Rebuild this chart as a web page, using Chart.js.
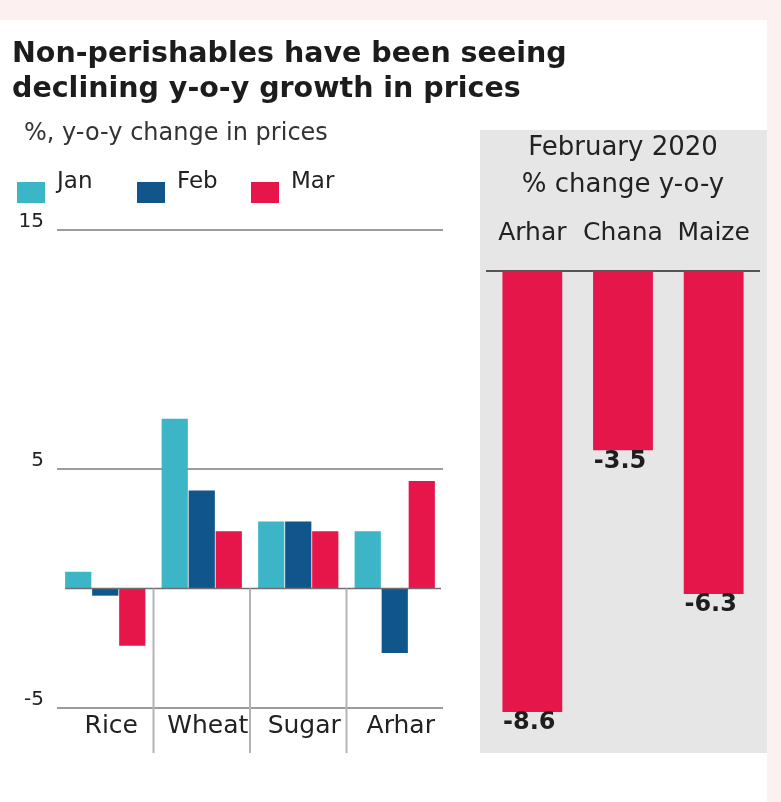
<!DOCTYPE html>
<html>
<head>
<meta charset="utf-8">
<script src="https://cdn.jsdelivr.net/npm/chart.js@4.4.1/dist/chart.umd.min.js"></script>
<style>
  body { margin: 0; background: #fcf0f1; width: 781px; height: 802px; overflow: hidden; }
  #card { position: absolute; left: 0; top: 20px; width: 767px; height: 782px; background: #fff; }
  #title { position: absolute; left: 12px; top: 35px; font: bold 28.5px "DejaVu Sans", sans-serif; line-height: 35px; color: #1c1c1c; white-space: nowrap; }
  #sub { position: absolute; left: 24px; top: 120px; font: 24px "DejaVu Sans", sans-serif; line-height: 24px; color: #333; white-space: nowrap; }
  #leftBox { position: absolute; left: 0; top: 0; }
  #rightBox { position: absolute; left: 480px; top: 130px; background: #e6e6e6; }
</style>
</head>
<body>
<div id="card"></div>
<div id="leftBox"><canvas id="leftChart" width="460" height="802"></canvas></div>
<div id="rightBox"><canvas id="rightChart" width="287" height="623"></canvas></div>
<div id="title">Non-perishables have been seeing<br>declining y-o-y growth in prices</div>
<div id="sub">%, y-o-y change in prices</div>

<script>
// Left chart data
const categories = ['Rice', 'Wheat', 'Sugar', 'Arhar'];
const janValues = [0.7, 7.1, 2.8, 2.4];
const febValues = [-0.3, 4.1, 2.8, -2.7];
const marValues = [-2.4, 2.4, 2.4, 4.5];
const yTicks = [15, 5, -5];

// Right panel data
const panelCategories = ['Arhar', 'Chana', 'Maize'];
const feb2020Values = [-8.6, -3.5, -6.3];

const FONT = 'DejaVu Sans';
const JAN = '#3cb6c6';
const FEB = '#11568a';
const MAR = '#e6164a';

// legend drawn with the label sitting above the box, like the print version
const topLegend = {
    id: 'topLegend',
    afterDraw(chart) {
        const ctx = chart.ctx;
        const xs = [17, 137, 251];
        ctx.save();
        ctx.font = '23px ' + FONT;
        ctx.textBaseline = 'alphabetic';
        ctx.textAlign = 'left';
        chart.data.datasets.forEach((ds, i) => {
            ctx.fillStyle = ds.backgroundColor;
            ctx.fillRect(xs[i], 182, 28, 21);
            ctx.fillStyle = '#222';
            ctx.fillText(ds.label, xs[i] + 40, 188);
        });
        ctx.restore();
    }
};

// zero line plus the separators between groups
const separators = {
    id: 'separators',
    afterDatasetsDraw(chart) {
        const ctx = chart.ctx;
        const x = chart.scales.x;
        const y0 = chart.scales.y.getPixelForValue(0);
        const first = chart.getDatasetMeta(0).data[0];
        ctx.save();
        ctx.strokeStyle = '#6f6f6f';
        ctx.lineWidth = 1.5;
        ctx.beginPath();
        ctx.moveTo(first.x - first.width / 2, y0);
        ctx.lineTo(chart.chartArea.right - 2, y0);
        ctx.stroke();
        ctx.strokeStyle = '#b4b4b4';
        ctx.lineWidth = 2;
        for (let i = 0; i < categories.length - 1; i++) {
            const sx = (x.getPixelForValue(i) + x.getPixelForValue(i + 1)) / 2;
            ctx.beginPath();
            ctx.moveTo(sx, y0);
            ctx.lineTo(sx, 753);
            ctx.stroke();
        }
        ctx.restore();
    }
};

new Chart(document.getElementById('leftChart').getContext('2d'), {
    type: 'bar',
    data: {
        labels: categories,
        datasets: [
            { label: 'Jan', data: janValues, backgroundColor: JAN },
            { label: 'Feb', data: febValues, backgroundColor: FEB },
            { label: 'Mar', data: marValues, backgroundColor: MAR }
        ]
    },
    options: {
        responsive: false,
        animation: false,
        datasets: {
            bar: { categoryPercentage: 0.84, barPercentage: 0.97 }
        },
        layout: {
            padding: { top: 230, right: 17, left: 0, bottom: 0 }
        },
        plugins: {
            legend: { display: false },
            tooltip: { enabled: false }
        },
        scales: {
            x: {
                grid: { display: false, drawTicks: false },
                border: { display: false },
                ticks: {
                    color: '#222',
                    font: { family: FONT, size: 25 },
                    padding: 3,
                    labelOffset: 6
                },
                afterFit(scale) { scale.height = 94; }
            },
            y: {
                min: -5,
                max: 15,
                afterBuildTicks(scale) {
                    scale.ticks = yTicks.map(v => ({ value: v }));
                },
                grid: { color: '#9c9c9c', lineWidth: 2, drawTicks: false },
                border: { display: false },
                ticks: {
                    color: '#222',
                    font: { family: FONT, size: 20 },
                    padding: 13,
                    labelOffset: -8
                },
                afterFit(scale) { scale.width = 57; }
            }
        }
    },
    plugins: [topLegend, separators]
});

// value labels under the red bars
const valueLabels = {
    id: 'valueLabels',
    afterDatasetsDraw(chart) {
        const ctx = chart.ctx;
        const meta = chart.getDatasetMeta(0);
        ctx.save();
        ctx.font = 'bold 24px ' + FONT;
        ctx.fillStyle = '#1e1e1e';
        ctx.textAlign = 'center';
        ctx.textBaseline = 'top';
        meta.data.forEach((bar, i) => {
            ctx.fillText(feb2020Values[i].toFixed(1), bar.x - 3, bar.y - 1);
        });
        ctx.restore();
    }
};

new Chart(document.getElementById('rightChart').getContext('2d'), {
    type: 'bar',
    data: {
        labels: panelCategories,
        datasets: [{
            label: 'February 2020',
            data: feb2020Values,
            backgroundColor: '#e5174a',
            barPercentage: 0.66,
            categoryPercentage: 1
        }]
    },
    options: {
        responsive: false,
        animation: false,
        layout: {
            padding: { left: 7, right: 8, top: 0, bottom: 0 }
        },
        plugins: {
            legend: { display: false },
            tooltip: { enabled: false },
            title: {
                display: true,
                text: ['February 2020', '% change y-o-y'],
                color: '#222',
                font: { family: FONT, size: 26, weight: 'normal', lineHeight: 1.42 },
                padding: { top: 0, bottom: 0 }
            }
        },
        scales: {
            x: {
                position: 'top',
                // tick marks hidden, their length only makes the gap above the axis line
                grid: { display: false, drawTicks: true, tickLength: 20 },
                border: { display: true, color: '#555', width: 2 },
                ticks: {
                    color: '#222',
                    font: { family: FONT, size: 25 },
                    padding: 2
                },
                afterFit(scale) { scale.height = 67; }
            },
            y: {
                display: false,
                min: -9.4,
                max: 0
            }
        }
    },
    plugins: [valueLabels]
});
</script>
</body>
</html>
